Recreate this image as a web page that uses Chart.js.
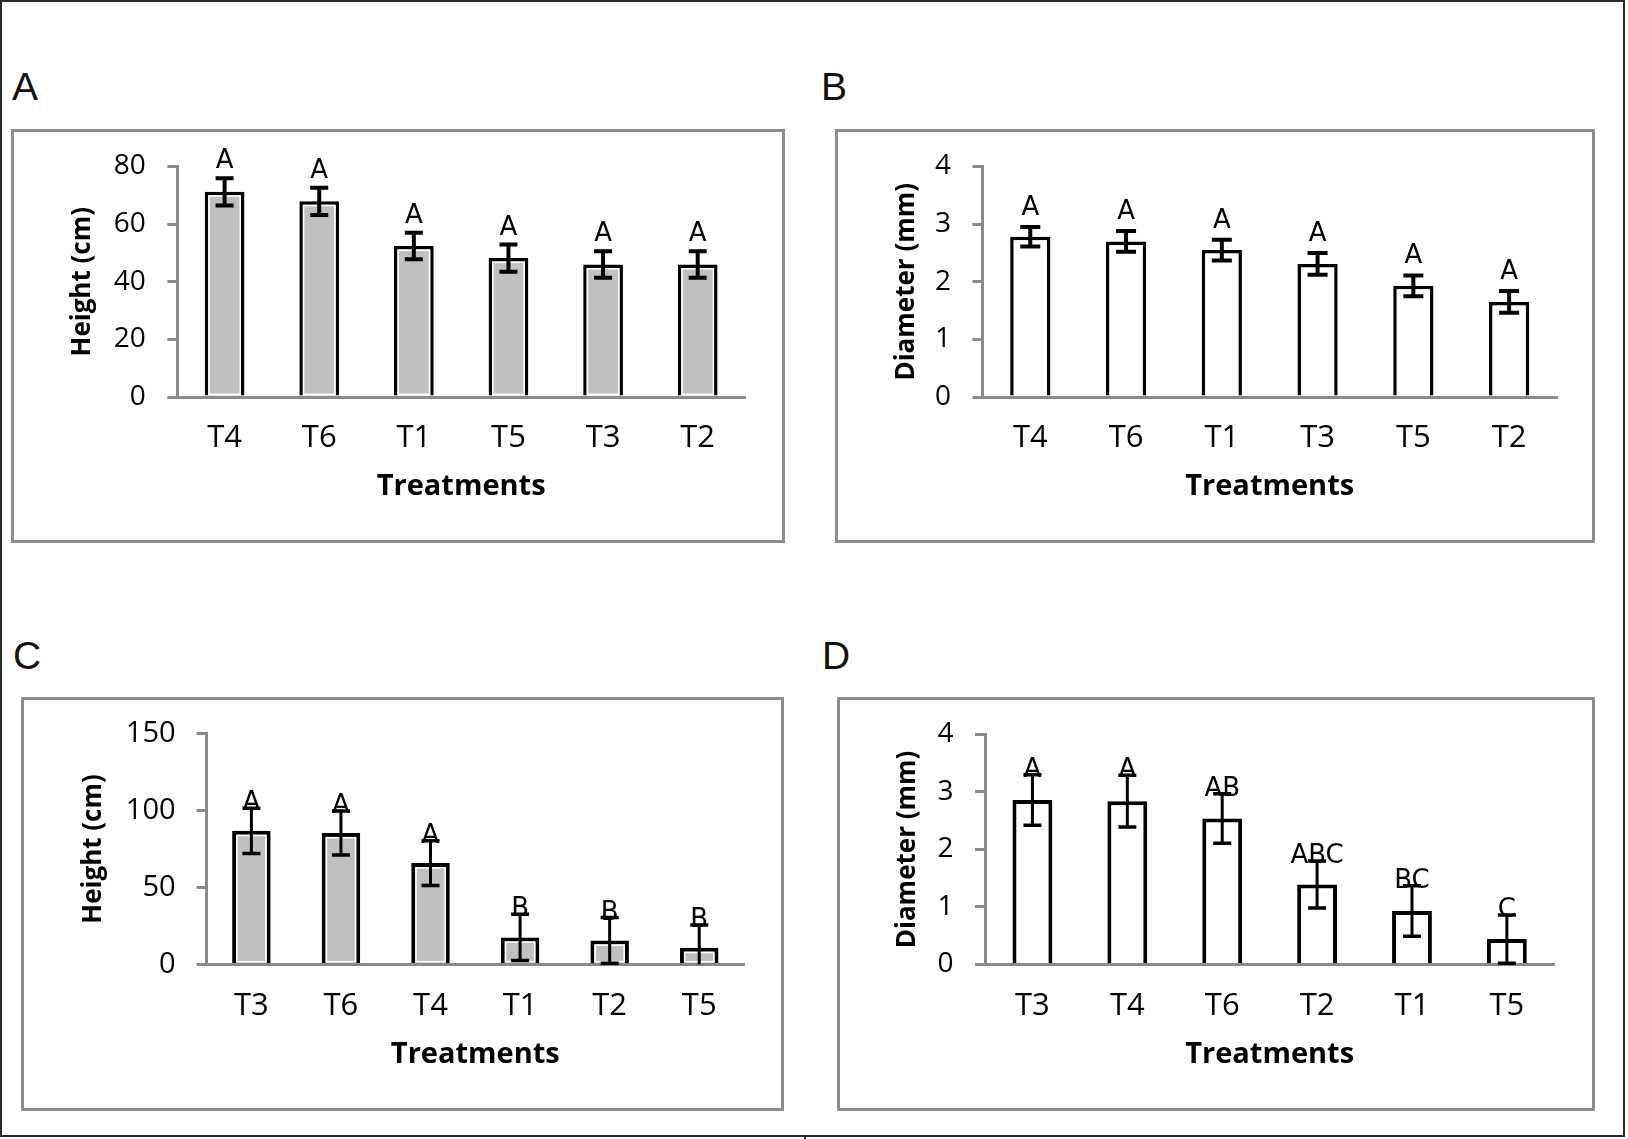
<!DOCTYPE html>
<html>
<head>
<meta charset="utf-8">
<script src="https://cdn.jsdelivr.net/npm/chart.js@4.4.1/dist/chart.umd.min.js"></script>
<style>
html,body{margin:0;padding:0;background:#fff;}
body{width:1628px;height:1139px;position:relative;overflow:hidden;}
#frame{position:absolute;left:0;top:0;width:1621px;height:1133px;border:2px solid #2a2a2a;}
.stub{position:absolute;left:804px;top:1137px;width:2px;height:2px;background:#2a2a2a;}
.box{position:absolute;border:3px solid #8c8c8c;box-sizing:border-box;}
.box canvas{position:absolute;left:0;top:0;}
.plabel{position:absolute;font-family:'Liberation Sans',Arial,sans-serif;font-size:39px;line-height:39px;color:#111;}
</style>
</head>
<body>
<div id="frame"></div>
<div class="stub"></div>

<div class="plabel" style="left:12px;top:67px;">A</div>
<div class="plabel" style="left:821px;top:67px;">B</div>
<div class="plabel" style="left:13px;top:636px;">C</div>
<div class="plabel" style="left:822px;top:636px;">D</div>

<div class="box" style="left:11px;top:129px;width:774px;height:414px;"><canvas id="cA" width="768" height="408"></canvas></div>
<div class="box" style="left:835px;top:129px;width:760px;height:414px;"><canvas id="cB" width="754" height="408"></canvas></div>
<div class="box" style="left:21px;top:697px;width:763px;height:414px;"><canvas id="cC" width="757" height="408"></canvas></div>
<div class="box" style="left:837px;top:697px;width:758px;height:414px;"><canvas id="cD" width="752" height="408"></canvas></div>

<script>
// ---------- DATA ----------
const catsA = ['T4','T6','T1','T5','T3','T2'];
const valsA = [71.2, 67.9, 52.4, 48.2, 46.0, 46.0];
const errsA = [4.7, 4.7, 4.6, 4.7, 4.6, 4.6];
const lettersA = ['A','A','A','A','A','A'];
const ticksA = [0, 20, 40, 60, 80];

const catsB = ['T4','T6','T1','T3','T5','T2'];
const valsB = [2.78, 2.70, 2.55, 2.31, 1.93, 1.65];
const errsB = [0.17, 0.18, 0.18, 0.19, 0.18, 0.19];
const lettersB = ['A','A','A','A','A','A'];
const ticksB = [0, 1, 2, 3, 4];

const catsC = ['T3','T6','T4','T1','T2','T5'];
const valsC = [86.8, 85.4, 65.8, 17.5, 15.6, 10.8];
const errsC = [14.7, 14.3, 14.6, 15.0, 14.8, 14.8];
const lettersC = ['A','A','A','B','B','B'];
const ticksC = [0, 50, 100, 150];

const catsD = ['T3','T4','T6','T2','T1','T5'];
const valsD = [2.86, 2.84, 2.54, 1.39, 0.93, 0.44];
const errsD = [0.44, 0.45, 0.43, 0.41, 0.44, 0.42];
const lettersD = ['A','A','AB','ABC','BC','C'];
const ticksD = [0, 1, 2, 3, 4];

const xTitle = 'Treatments';
const yTitleHeight = 'Height (cm)';
const yTitleDiam = 'Diameter (mm)';

// ---------- PLUGIN: error bars + significance letters ----------
const errPlugin = {
  id: 'errbars',
  afterDatasetsDraw(chart) {
    const o = chart.options.plugins.errbars;
    const ctx = chart.ctx;
    const ys = chart.scales.y;
    const meta = chart.getDatasetMeta(0);
    const vals = chart.data.datasets[0].data;
    ctx.save();
    meta.data.forEach((bar, i) => {
      const p = bar.getProps(['x','y','base','width'], true);
      if (o.inner) {
        const bw = o.bw;
        ctx.strokeStyle = '#ffffff';
        ctx.lineWidth = 1.5;
        ctx.strokeRect(p.x - p.width/2 + bw + 0.75, p.y + bw + 0.75, p.width - 2*bw - 1.5, p.base - p.y - bw - 2);
      }
      const v = vals[i], e = o.errors[i];
      const yT = ys.getPixelForValue(v + e);
      const lowV = Math.max(v - e, ys.min);
      const yB = ys.getPixelForValue(lowV);
      const cw = o.cap / 2;
      ctx.strokeStyle = '#000';
      ctx.lineCap = 'butt';
      ctx.lineWidth = o.lw;
      ctx.beginPath();
      ctx.moveTo(p.x, yT); ctx.lineTo(p.x, yB);
      ctx.stroke();
      ctx.lineWidth = o.capw;
      ctx.beginPath();
      ctx.moveTo(p.x - cw, yT); ctx.lineTo(p.x + cw, yT);
      if (v - e > ys.min) { ctx.moveTo(p.x - cw, yB); ctx.lineTo(p.x + cw, yB); }
      ctx.stroke();
      ctx.fillStyle = '#000';
      ctx.font = '26px "DejaVu Sans", Verdana, sans-serif';
      ctx.textAlign = 'center';
      ctx.textBaseline = 'alphabetic';
      ctx.fillText(o.letters[i], p.x, yT - o.gap);
    });
    ctx.restore();
  }
};

const AXIS = '#8a8a8a';

function makeChart(id, cats, vals, errs, letters, ticks, yTitle, fill, cfg) {
  const canvas = document.getElementById(id);
  const H = canvas.height;
  return new Chart(canvas, {
    type: 'bar',
    data: {
      labels: cats,
      datasets: [{
        data: vals,
        backgroundColor: fill,
        borderColor: '#000',
        borderWidth: cfg.bw,
        borderSkipped: 'start',
        barPercentage: cfg.barPct,
        categoryPercentage: 1.0
      }]
    },
    options: {
      responsive: false,
      animation: false,
      devicePixelRatio: 1,
      layout: { padding: { left: 0, right: cfg.padR, top: cfg.top, bottom: 0 } },
      plugins: {
        legend: { display: false },
        tooltip: { enabled: false },
        errbars: { errors: errs, letters: letters, gap: cfg.gap, cap: cfg.cap, lw: cfg.lw, capw: cfg.capw, inner: cfg.inner, bw: cfg.bw }
      },
      scales: {
        x: {
          grid: { display: false, drawTicks: false },
          border: { display: true, color: AXIS, width: 3 },
          ticks: { color: '#000', font: { family: '"Open Sans", sans-serif', size: 31 }, padding: 23 },
          title: { display: true, text: xTitle, color: '#000',
                   font: { family: '"Open Sans", sans-serif', size: 29, weight: 'bold' },
                   padding: { top: 0, bottom: 35.5 } },
          afterFit(s) { s.height = H - cfg.bottom; s.paddingLeft = 0; s.paddingRight = 0; }
        },
        y: {
          min: ticks[0], max: ticks[ticks.length - 1],
          afterBuildTicks(s) { s.ticks = ticks.map(v => ({ value: v })); },
          grid: { display: true, drawOnChartArea: false, drawTicks: true, tickLength: 10, color: AXIS, lineWidth: 3 },
          border: { display: true, color: AXIS, width: 3 },
          ticks: { color: '#000', font: { family: '"Open Sans", sans-serif', size: cfg.tickSize }, padding: cfg.tickPad },
          title: { display: true, text: yTitle, color: '#000',
                   font: { family: '"Open Sans", sans-serif', size: 26, weight: 'bold' },
                   padding: { top: cfg.titleMid - 15.6, bottom: 0 } },
          afterFit(s) { s.width = cfg.left; s.paddingTop = 0; s.paddingBottom = 0; }
        }
      }
    },
    plugins: [errPlugin]
  });
}

makeChart('cA', catsA, valsA, errsA, lettersA, ticksA, yTitleHeight, '#c0c0c0',
  { left: 163.3, padR: 37, top: 34.5, bottom: 265, tickSize: 28, tickPad: 21.5, titleMid: 69, barPct: 0.42, bw: 3.5, gap: 10, cap: 18, lw: 4, capw: 4, inner: true });
makeChart('cB', catsB, valsB, errsB, lettersB, ticksB, yTitleDiam, '#ffffff',
  { left: 144.4, padR: 35, top: 34.5, bottom: 265, tickSize: 28, tickPad: 21.5, titleMid: 69, barPct: 0.42, bw: 3.5, gap: 12, cap: 20, lw: 4, capw: 4, inner: false });
makeChart('cC', catsC, valsC, errsC, lettersC, ticksC, yTitleHeight, '#c0c0c0',
  { left: 182.6, padR: 37, top: 33.5, bottom: 264.4, tickSize: 29, tickPad: 21, titleMid: 70, barPct: 0.43, bw: 4, gap: -2, cap: 18, lw: 3, capw: 3.5, inner: true });
makeChart('cD', catsD, valsD, errsD, lettersD, ticksD, yTitleDiam, '#ffffff',
  { left: 145, padR: 37.7, top: 34.5, bottom: 264.4, tickSize: 28, tickPad: 21.5, titleMid: 68, barPct: 0.42, bw: 4, gap: -2, cap: 18, lw: 3, capw: 3.5, inner: false });
</script>
</body>
</html>
